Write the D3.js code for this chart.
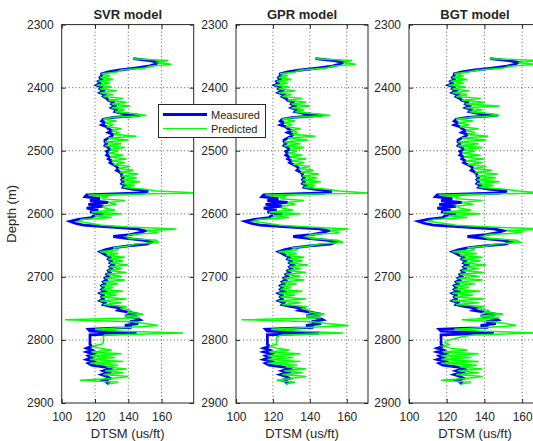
<!DOCTYPE html>
<html>
<head>
<meta charset="utf-8">
<script src="https://cdn.jsdelivr.net/npm/d3@7"></script>
<style>
  body { margin: 0; background: #fff; }
  text { font-family: "Liberation Sans", Arial, sans-serif; fill: #262626; }
</style>
</head>
<body>
<div id="plot"></div>
<script>
// depth samples (m)
const depth = [
  2354, 2357, 2360, 2363, 2366, 2369, 2372, 2375, 2378, 2381,
  2384, 2387, 2390, 2393, 2396, 2399, 2402, 2405, 2408, 2411,
  2414, 2417, 2420, 2423, 2426, 2429, 2432, 2435, 2438, 2441,
  2444, 2447, 2450, 2453, 2456, 2459, 2462, 2465, 2468, 2471,
  2474, 2477, 2480, 2483, 2486, 2489, 2492, 2495, 2498, 2501,
  2504, 2507, 2510, 2513, 2516, 2519, 2522, 2525, 2528, 2531,
  2534, 2537, 2540, 2543, 2546, 2549, 2552, 2555, 2558, 2561,
  2564, 2567, 2570, 2573, 2576, 2579, 2582, 2585, 2588, 2591,
  2594, 2597, 2600, 2603, 2606, 2609, 2612, 2615, 2618, 2621,
  2624, 2627, 2630, 2633, 2636, 2639, 2642, 2645, 2648, 2651,
  2654, 2657, 2660, 2663, 2666, 2669, 2672, 2675, 2678, 2681,
  2684, 2687, 2690, 2693, 2696, 2699, 2702, 2705, 2708, 2711,
  2714, 2717, 2720, 2723, 2726, 2729, 2732, 2735, 2738, 2741,
  2744, 2747, 2750, 2753, 2756, 2759, 2762, 2765, 2768, 2771,
  2774, 2777, 2780, 2783, 2786, 2789, 2792, 2795, 2798, 2801,
  2804, 2807, 2810, 2813, 2816, 2819, 2822, 2825, 2828, 2831,
  2834, 2837, 2840, 2843, 2846, 2849, 2852, 2855, 2858, 2861,
  2864, 2867, 2870
];

// measured DTSM (us/ft)
const measured = [
  143, 153, 158, 156, 152, 144, 135, 128, 124, 124,
  123, 124, 122, 123, 121, 124, 123, 125, 123, 126,
  125, 127, 128, 131, 130, 132, 130, 133, 132, 137,
  147, 131, 125, 124, 126, 124, 127, 128, 130, 128,
  131, 130, 128, 126, 126, 127, 126, 128, 129, 127,
  128, 127, 129, 128, 130, 129, 131, 133, 134, 133,
  135, 136, 136, 137, 136, 137, 136, 138, 137, 142,
  152, 148, 115, 114, 123, 117, 128, 116, 125, 115,
  122, 117, 125, 119, 118, 110, 105, 108, 113, 130,
  145, 150, 147, 141, 131, 139, 150, 154, 151, 140,
  131, 126, 123, 125, 127, 129, 128, 130, 129, 131,
  129, 130, 128, 129, 127, 128, 126, 127, 125, 126,
  124, 125, 124, 126, 123, 125, 124, 125, 123, 126,
  125, 130, 136, 134, 140, 146, 138, 145, 147, 141,
  146, 138, 142, 116, 117, 145, 117, 117, 117, 117,
  117, 117, 118, 115, 118, 115, 119, 116, 118, 115,
  119, 116, 118, 126, 129, 125, 128, 124, 127, 129,
  125, 128, 127
];

// predicted DTSM per model
const svrPred = [
  143, 164, 157, 166, 153, 150, 136, 133, 124, 129,
  123, 131, 122, 129, 121, 130, 123, 133, 123, 131,
  125, 137, 128, 139, 130, 141, 130, 138, 132, 142,
  151, 131, 125, 133, 126, 131, 127, 136, 130, 134,
  131, 145, 128, 140, 126, 136, 126, 138, 129, 134,
  128, 137, 129, 139, 130, 138, 131, 141, 134, 143,
  135, 146, 136, 145, 136, 147, 136, 144, 137, 150,
  157, 181, 116, 128, 124, 138, 128, 133, 125, 126,
  132, 118, 136, 120, 130, 112, 110, 117, 124, 140,
  169, 151, 158, 141, 139, 140, 157, 158, 144, 140,
  131, 134, 123, 134, 127, 138, 128, 137, 129, 140,
  129, 136, 128, 139, 127, 136, 126, 138, 125, 134,
  124, 131, 124, 137, 123, 133, 124, 139, 123, 136,
  125, 139, 136, 141, 140, 149, 138, 147, 102, 143,
  150, 158, 141, 120, 133, 173, 126, 125, 125, 125,
  125, 124, 118, 123, 130, 118, 136, 117, 132, 117,
  137, 117, 134, 127, 139, 126, 137, 125, 140, 130,
  111, 134, 128
];
const gprPred = [
  143, 163, 158, 165, 152, 149, 135, 132, 124, 128,
  123, 130, 122, 128, 121, 129, 123, 132, 123, 130,
  125, 136, 128, 138, 130, 140, 130, 137, 132, 141,
  151, 132, 125, 132, 126, 130, 127, 135, 130, 133,
  131, 143, 128, 139, 126, 135, 126, 137, 129, 133,
  128, 136, 129, 138, 130, 137, 131, 140, 134, 142,
  135, 145, 136, 144, 136, 146, 136, 143, 137, 149,
  156, 172, 116, 127, 124, 137, 128, 132, 125, 125,
  131, 118, 135, 120, 129, 112, 109, 117, 124, 139,
  161, 151, 156, 141, 138, 141, 155, 158, 145, 140,
  131, 133, 123, 133, 127, 137, 128, 136, 129, 139,
  129, 135, 128, 138, 127, 135, 126, 137, 125, 133,
  124, 130, 124, 136, 123, 132, 124, 138, 123, 135,
  125, 138, 136, 140, 140, 148, 138, 146, 103, 142,
  149, 161, 141, 119, 132, 158, 125, 122, 122, 122,
  122, 122, 118, 122, 129, 118, 135, 117, 131, 117,
  135, 117, 133, 127, 138, 126, 136, 125, 138, 129,
  122, 132, 127
];
const bgtPred = [
  143, 170, 158, 168, 153, 150, 137, 131, 124, 129,
  123, 131, 122, 129, 121, 130, 123, 132, 123, 131,
  125, 138, 128, 140, 130, 148, 130, 139, 132, 142,
  148, 133, 125, 134, 126, 132, 127, 137, 130, 135,
  131, 142, 128, 141, 126, 137, 126, 139, 129, 135,
  128, 138, 129, 140, 130, 139, 131, 141, 134, 144,
  135, 147, 136, 146, 136, 148, 136, 145, 137, 151,
  158, 172, 116, 126, 125, 139, 128, 134, 125, 127,
  133, 118, 138, 121, 131, 113, 110, 118, 125, 143,
  172, 152, 160, 142, 139, 142, 157, 159, 146, 141,
  131, 135, 123, 136, 127, 139, 128, 138, 129, 141,
  129, 137, 128, 140, 127, 137, 126, 139, 125, 135,
  124, 132, 124, 138, 123, 134, 124, 140, 123, 137,
  125, 140, 136, 142, 140, 150, 138, 148, 128, 145,
  151, 157, 143, 124, 137, 168, 134, 128, 124, 120,
  119, 121, 118, 122, 131, 118, 137, 117, 133, 117,
  137, 117, 136, 127, 139, 126, 137, 125, 139, 130,
  117, 133, 128
];

const titles = ["SVR model", "GPR model", "BGT model"];
const predicted = [svrPred, gprPred, bgtPred];
const xMax = [179.3, 171.5, 170];
const xTicks = [100, 120, 140, 160];
const yTicks = [2300, 2400, 2500, 2600, 2700, 2800, 2900];
const gridX = [120, 140, 160];
const gridY = [2400, 2500, 2600, 2700, 2800];

const width = 533, height = 441;
const panelLeft = [61.7, 236, 409];
const panelW = 132, plotTop = 24.6, plotBottom = 403;

const svg = d3.select("div#plot").append("svg")
    .attr("width", width)
    .attr("height", height);

const y = d3.scaleLinear().domain([2300, 2900]).range([plotTop, plotBottom]);

titles.forEach((title, i) => {
    const x = d3.scaleLinear().domain([100, xMax[i]]).range([0, panelW]);
    const g = svg.append("g").attr("transform", `translate(${panelLeft[i]},0)`);

    g.append("rect")
        .attr("x", 0).attr("y", plotTop)
        .attr("width", panelW).attr("height", plotBottom - plotTop)
        .attr("fill", "#fff");

    // dotted grid
    g.selectAll(".gx").data(gridX).enter().append("line")
        .attr("x1", d => x(d)).attr("x2", d => x(d))
        .attr("y1", plotTop).attr("y2", plotBottom)
        .attr("stroke", "#333").attr("stroke-width", 0.8)
        .attr("stroke-dasharray", "1,2.5");
    g.selectAll(".gy").data(gridY).enter().append("line")
        .attr("x1", 0).attr("x2", panelW)
        .attr("y1", d => y(d)).attr("y2", d => y(d))
        .attr("stroke", "#333").attr("stroke-width", 0.8)
        .attr("stroke-dasharray", "1,2.5");

    const clipId = `clip${i}`;
    g.append("clipPath").attr("id", clipId)
      .append("rect")
        .attr("x", 0).attr("y", plotTop)
        .attr("width", panelW).attr("height", plotBottom - plotTop);

    const line = d3.line()
        .x(d => x(d[1]))
        .y(d => y(d[0]));

    const plot = g.append("g").attr("clip-path", `url(#${clipId})`);
    plot.append("path")
        .datum(d3.zip(depth, measured))
        .attr("d", line)
        .attr("fill", "none")
        .attr("stroke", "#0000ff")
        .attr("stroke-width", 2.8);
    plot.append("path")
        .datum(d3.zip(depth, predicted[i]))
        .attr("d", line)
        .attr("fill", "none")
        .attr("stroke", "#00ff00")
        .attr("stroke-width", 1.5);

    // axes with inward ticks
    const yAxis = d3.axisLeft(y).tickValues(yTicks).tickFormat(d3.format("d"))
        .tickSize(-4).tickPadding(8);
    g.append("g").call(yAxis)
        .call(a => a.select(".domain").remove())
        .selectAll("text").attr("font-size", 12).style("font-family", "Liberation Sans, Arial, sans-serif").attr("fill", "#262626");
    g.append("g").attr("transform", `translate(${panelW},0)`)
        .call(d3.axisRight(y).tickValues(yTicks).tickSize(-4).tickFormat(""))
        .call(a => a.select(".domain").remove());

    const xAxis = d3.axisBottom(x).tickValues(xTicks).tickFormat(d3.format("d"))
        .tickSize(-4).tickPadding(9);
    g.append("g").attr("transform", `translate(0,${plotBottom})`).call(xAxis)
        .call(a => a.select(".domain").remove())
        .selectAll("text").attr("font-size", 12).style("font-family", "Liberation Sans, Arial, sans-serif").attr("fill", "#262626");
    g.append("g").attr("transform", `translate(0,${plotTop})`)
        .call(d3.axisTop(x).tickValues(xTicks).tickSize(-4).tickFormat(""))
        .call(a => a.select(".domain").remove());

    g.selectAll(".tick line").attr("stroke", "#262626");

    g.append("rect")
        .attr("x", 0).attr("y", plotTop)
        .attr("width", panelW).attr("height", plotBottom - plotTop)
        .attr("fill", "none")
        .attr("stroke", "#262626")
        .attr("stroke-width", 1);

    g.append("text")
        .attr("x", panelW / 2).attr("y", 19)
        .attr("text-anchor", "middle")
        .attr("font-size", 13)
        .attr("font-weight", "bold")
        .attr("fill", "#000")
        .text(title);

    g.append("text")
        .attr("x", panelW / 2).attr("y", 438)
        .attr("text-anchor", "middle")
        .attr("font-size", 13)
        .text("DTSM (us/ft)");
});

svg.append("text")
    .attr("transform", `translate(16,${(plotTop + plotBottom) / 2}) rotate(-90)`)
    .attr("text-anchor", "middle")
    .attr("font-size", 13)
    .text("Depth (m)");

// legend
const legend = svg.append("g");
legend.append("rect")
    .attr("x", 158.5).attr("y", 104.5)
    .attr("width", 107).attr("height", 33)
    .attr("fill", "#fff")
    .attr("stroke", "#262626")
    .attr("stroke-width", 1);
legend.append("line")
    .attr("x1", 163).attr("x2", 207).attr("y1", 114.5).attr("y2", 114.5)
    .attr("stroke", "#0000ff").attr("stroke-width", 3);
legend.append("text")
    .attr("x", 211).attr("y", 118.5)
    .attr("font-size", 11)
    .text("Measured");
legend.append("line")
    .attr("x1", 163).attr("x2", 207).attr("y1", 128.5).attr("y2", 128.5)
    .attr("stroke", "#00ff00").attr("stroke-width", 1);
legend.append("text")
    .attr("x", 211).attr("y", 132.5)
    .attr("font-size", 11)
    .text("Predicted");
</script>
</body>
</html>
